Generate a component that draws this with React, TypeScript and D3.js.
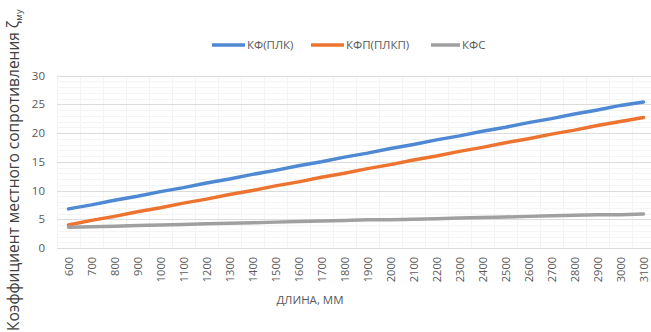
import React from 'react';
import * as d3 from 'd3';

const lengths = [600, 700, 800, 900, 1000, 1100, 1200, 1300, 1400, 1500, 1600, 1700, 1800, 1900, 2000, 2100, 2200, 2300, 2400, 2500, 2600, 2700, 2800, 2900, 3000, 3100];
const kfPlk = [6.8, 7.5, 8.3, 9.0, 9.8, 10.5, 11.3, 12.0, 12.8, 13.5, 14.3, 15.0, 15.8, 16.5, 17.3, 18.0, 18.8, 19.5, 20.3, 21.0, 21.8, 22.5, 23.3, 24.0, 24.8, 25.4];
const kfpPlkp = [4.0, 4.8, 5.5, 6.3, 7.0, 7.8, 8.5, 9.3, 10.0, 10.8, 11.5, 12.3, 13.0, 13.8, 14.5, 15.3, 16.0, 16.8, 17.5, 18.3, 19.0, 19.8, 20.5, 21.3, 22.0, 22.7];
const kfs = [3.6, 3.7, 3.8, 3.9, 4.0, 4.1, 4.2, 4.3, 4.4, 4.5, 4.6, 4.7, 4.8, 4.9, 4.9, 5.0, 5.1, 5.2, 5.3, 5.4, 5.5, 5.6, 5.7, 5.8, 5.8, 5.9];
const yTicks = [0, 5, 10, 15, 20, 25, 30];
const minorTicks = d3.range(0, 31);

const series = [
  { name: 'КФ(ПЛК)', values: kfPlk, color: '#4f88d3' },
  { name: 'КФП(ПЛКП)', values: kfpPlkp, color: '#ec7430' },
  { name: 'КФС', values: kfs, color: '#a0a0a0' },
];

const W = 651;
const H = 332;
const left = 57;
const right = 655;
const top = 75.5;
const bottom = 248;
const font = '"Open Sans", "Liberation Sans", sans-serif';
const textColor = '#595959';

const App: React.FC = () => {
  const x = d3.scalePoint<number>().domain(lengths).range([left, right]).padding(0.5);
  const y = d3.scaleLinear().domain([0, 30]).range([bottom, top]);
  const line = d3.line<number>()
    .x((d, i) => x(lengths[i]) as number)
    .y((d) => y(d));

  const legendX = [212, 311, 431];
  const legendTextX = [247, 346, 462];

  return (
    <svg width={W} height={H} style={{ position: 'absolute', left: 0, top: 0, background: '#fff' }}>
      {/* minor grid */}
      <g stroke="#f4f4f4" strokeWidth={1}>
        {minorTicks.map((t) => (
          <line key={'mh' + t} x1={left} x2={W} y1={Math.round(y(t)) + 0.5} y2={Math.round(y(t)) + 0.5} />
        ))}
        {lengths.map((l) => (
          <line key={'mv' + l} x1={Math.round((x(l) as number) - x.step() / 2) + 0.5} x2={Math.round((x(l) as number) - x.step() / 2) + 0.5} y1={top} y2={bottom} />
        ))}
      </g>
      {/* major grid */}
      <g stroke="#dcdcdc" strokeWidth={1}>
        {yTicks.map((t) => (
          <line key={'g' + t} x1={left} x2={W} y1={Math.round(y(t)) + 0.5} y2={Math.round(y(t)) + 0.5} />
        ))}
      </g>
      {/* y ticks */}
      <g fontFamily={font} fontSize={11.5} fill={textColor} textAnchor="end">
        {yTicks.map((t) => (
          <text key={'yt' + t} x={45} y={y(t) + 4}>{t}</text>
        ))}
      </g>
      {/* x ticks */}
      <g fontFamily={font} fontSize={11} fill={textColor} textAnchor="end">
        {lengths.map((l) => (
          <text key={'xt' + l} transform={`translate(${(x(l) as number) + 4},257) rotate(-90)`}>{l}</text>
        ))}
      </g>
      {/* series */}
      {series.map((s) => (
        <path key={s.name} d={line(s.values) || ''} fill="none" stroke={s.color} strokeWidth={3.5} strokeLinecap="round" />
      ))}
      {/* legend */}
      <g fontFamily={font} fontSize={11.5} fill={textColor}>
        {series.map((s, i) => (
          <g key={'lg' + s.name}>
            <line x1={legendX[i]} x2={legendTextX[i] - 2} y1={45} y2={45} stroke={s.color} strokeWidth={3.5} />
            <text x={legendTextX[i]} y={49}>{s.name}</text>
          </g>
        ))}
      </g>
      {/* axis titles */}
      <text x={310} y={304} textAnchor="middle" fontFamily={font} fontSize={11.5} fill={textColor}>ДЛИНА, ММ</text>
      <text transform="translate(19,331) rotate(-90)" fontFamily={font} fontSize={15.5} fill="#404040">
        Коэффициент местного сопротивления ζ<tspan fontSize={9} dy={3}>му</tspan>
      </text>
    </svg>
  );
};

export default App;
